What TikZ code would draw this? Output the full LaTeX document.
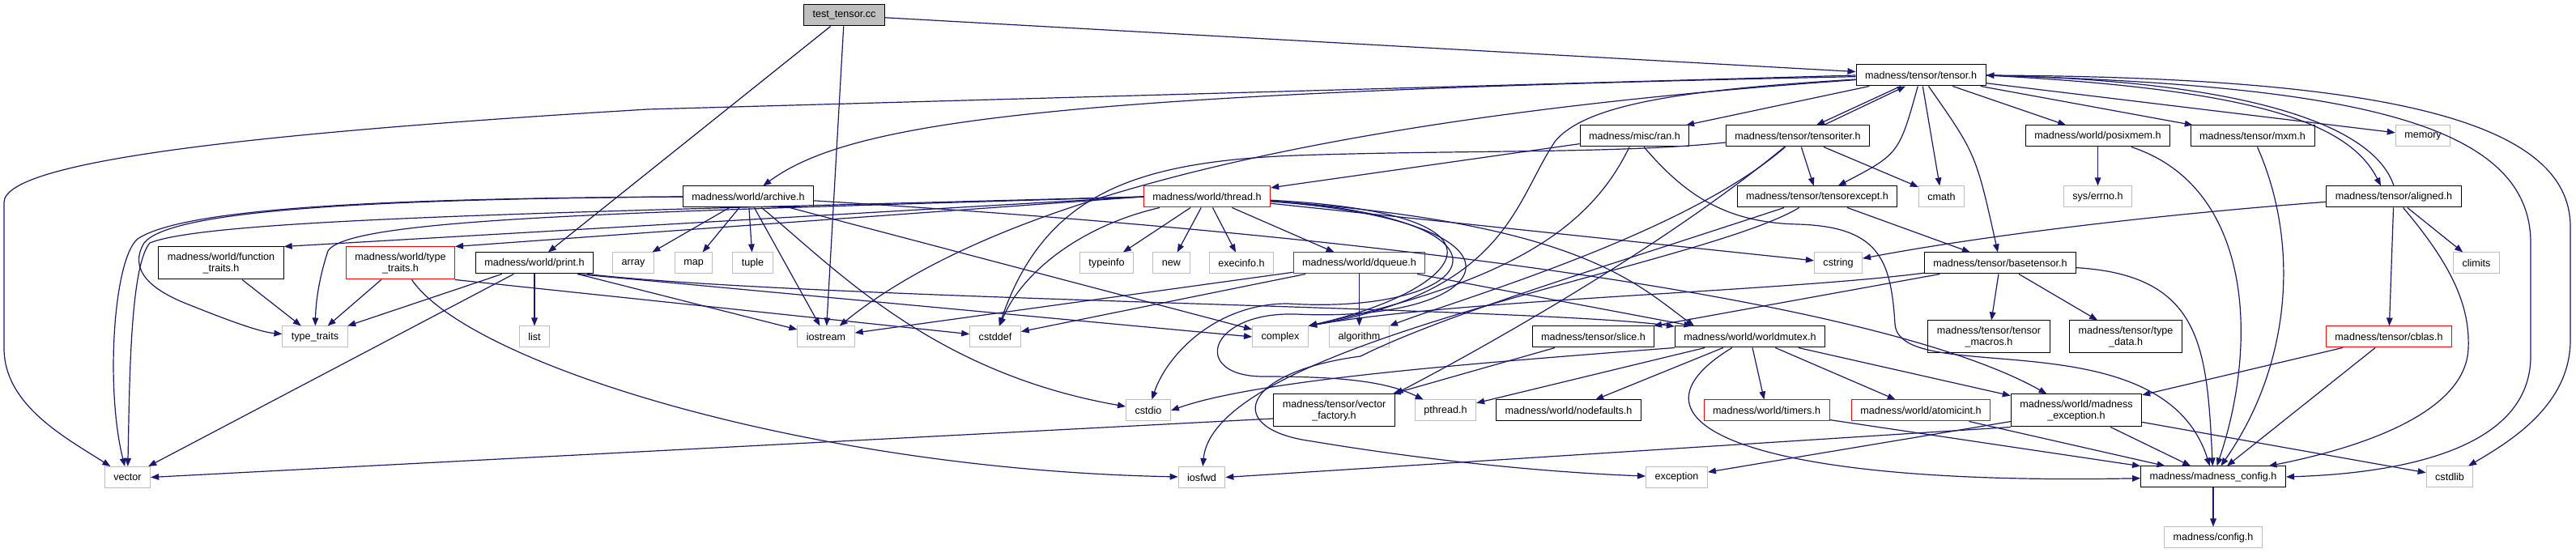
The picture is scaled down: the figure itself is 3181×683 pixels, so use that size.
\documentclass[tikz,border=0pt]{standalone}
\usepackage{fontspec}
\newfontfamily\nf{Liberation Sans}
\usetikzlibrary{arrows.meta}
\definecolor{mblue}{RGB}{25,25,112}
\definecolor{grey75}{RGB}{191,191,191}
\tikzset{
  base/.style={draw, line width=0.5pt, fill=white, minimum height=13pt, inner xsep=5.5pt, inner ysep=0pt,
    font=\nf\fontsize{6.3}{7}\selectfont, text=black},
  doc/.style={base, draw=black},
  sys/.style={base, draw=grey75},
  trunc/.style={base, draw=red},
  two/.style={minimum height=20pt, align=center},
  dep/.style={draw=mblue, line width=0.6pt, -{Triangle[length=5pt,width=3.8pt]}}
}
\begin{document}
\begin{tikzpicture}[x=0.5pt,y=-0.5pt]
\fill[white] (0,0) rectangle (3181,683);
\useasboundingbox (0,0) rectangle (3181,683);
% nodes
\node[doc, fill=grey75] (tt) at (1042.5,19) {test\_tensor.cc};
\node[doc] (tensor) at (2372,93) {madness/tensor/tensor.h};
\node[doc] (ran) at (2018.5,168) {madness/misc/ran.h};
\node[doc] (titer) at (2220,168) {madness/tensor/tensoriter.h};
\node[doc] (posix) at (2590.5,168) {madness/world/posixmem.h};
\node[doc] (mxm) at (2781.5,168) {madness/tensor/mxm.h};
\node[sys] (memory) at (2992,168) {memory};
\node[doc] (archive) at (924,243) {madness/world/archive.h};
\node[trunc] (thread) at (1490.5,243) {madness/world/thread.h};
\node[doc] (texcept) at (2244,243) {madness/tensor/tensorexcept.h};
\node[sys] (cmath) at (2397.5,243) {cmath};
\node[sys] (errno) at (2590.5,243) {sys/errno.h};
\node[doc] (aligned) at (2956,243) {madness/tensor/aligned.h};
\node[doc, two] (ftraits) at (273,325) {madness/world/function\\\_traits.h};
\node[trunc, two] (wtt) at (494.5,325) {madness/world/type\\\_traits.h};
\node[doc] (print) at (660,325) {madness/world/print.h};
\node[sys] (array) at (782,325) {array};
\node[sys] (map) at (856.5,325) {map};
\node[sys] (tuple) at (929.5,325) {tuple};
\node[sys] (typeinfo) at (1366.5,325) {typeinfo};
\node[sys] (nw) at (1446.5,325) {new};
\node[sys] (execinfo) at (1533,325) {execinfo.h};
\node[trunc] (dqueue) at (1678.5,325) {madness/world/dqueue.h};
\node[sys] (cstring) at (2270,325) {cstring};
\node[doc] (basetensor) at (2470,325) {madness/tensor/basetensor.h};
\node[sys] (climits) at (3058,325) {climits};
\node[sys] (ttraits) at (389,416) {type\_traits};
\node[sys] (list) at (660,416) {list};
\node[sys] (iostream) at (1020,416) {iostream};
\node[sys] (cstddef) at (1229,416) {cstddef};
\node[sys] (complex) at (1581,416) {complex};
\node[sys] (algorithm) at (1678.5,416) {algorithm};
\node[doc] (slice) at (1967.5,416) {madness/tensor/slice.h};
\node[doc] (wmutex) at (2161,416) {madness/world/worldmutex.h};
\node[doc, two] (tmacros) at (2456,416) {madness/tensor/tensor\\\_macros.h};
\node[doc, two] (tdata) at (2625,416) {madness/tensor/type\\\_data.h};
\node[trunc] (cblas) at (2950,416) {madness/tensor/cblas.h};
\node[sys] (cstdio) at (1418,507) {cstdio};
\node[doc, two] (vfactory) at (1647.5,507) {madness/tensor/vector\\\_factory.h};
\node[sys] (pthread) at (1785,507) {pthread.h};
\node[doc] (nodefaults) at (1937,507) {madness/world/nodefaults.h};
\node[trunc] (timers) at (2181.5,507) {madness/world/timers.h};
\node[trunc] (atomicint) at (2372,507) {madness/world/atomicint.h};
\node[doc, two] (mexcept) at (2564,507) {madness/world/madness\\\_exception.h};
\node[sys] (vector) at (157.5,589.5) {vector};
\node[sys] (iosfwd) at (1484,589.5) {iosfwd};
\node[sys] (exception) at (2070.5,589.5) {exception};
\node[doc] (mconfig) at (2733,589) {madness/madness\_config.h};
\node[sys] (cstdlib) at (3025,589) {cstdlib};
\node[sys] (config) at (2733,664) {madness/config.h};
% test_tensor.cc
\draw[dep] (tt) -- (tensor);
\draw[dep] (tt) -- (print);
\draw[dep] (tt) -- (iostream);
% tensor.h
\draw[dep] (tensor) -- (ran);
\draw[dep] ([xshift=-12.5pt]tensor.south) -- ([xshift=11.5pt]titer.north);
\draw[dep] ([xshift=16pt]titer.north) -- ([xshift=-9.5pt]tensor.south);
\draw[dep] (tensor) .. controls (2345,190) .. (texcept);
\draw[dep] (tensor) -- (cmath);
\draw[dep] (tensor) .. controls (2440,190) .. (basetensor);
\draw[dep] (tensor) -- (posix);
\draw[dep] (tensor) -- (mxm);
\draw[dep] (tensor) -- (memory);
\draw[dep] (tensor.east) .. controls (2780,110) and (2900,150) .. ([xshift=-8pt]aligned.north);
\draw[dep] (aligned.north) .. controls (2930,150) and (2760,100) .. (tensor.east);
\draw[dep] (tensor.east) .. controls (2900,105) and (3125,150) .. (3125,300) -- (3125,440) .. controls (3125,560) and (2950,585) .. (mconfig.east);
\draw[dep] (tensor.east) .. controls (2950,95) and (3174,150) .. (3174,280) -- (3174,420) .. controls (3174,500) and (3100,545) .. (cstdlib);
\draw[dep] (tensor.west) -- (800,135) .. controls (300,165) and (5,200) .. (5,250) -- (5,430) .. controls (5,500) and (80,540) .. (vector);
\draw[dep] (tensor) .. controls (1300,115) and (1050,150) .. (archive);
\draw[dep] (tensor) .. controls (1700,140) and (1250,230) .. (iostream);
\draw[dep] (tensor) .. controls (2100,110) and (1960,125) .. (1920,175) .. controls (1870,250) and (1860,360) .. (complex.north east);
% tensoriter.h
\draw[dep] (titer) -- (texcept);
\draw[dep] (titer) -- (cmath);
\draw[dep] ([yshift=-4pt]titer.west) .. controls (2000,190) and (1800,185) .. (1600,192) .. controls (1400,200) and (1290,240) .. (cstddef);
\draw[dep] (titer) .. controls (2060,300) and (1850,420) .. (vfactory.north east);
\draw[dep] (titer) .. controls (2080,290) and (1800,370) .. (algorithm.north east);
% ran.h
\draw[dep] (ran) -- (thread);
\draw[dep] (ran) .. controls (1960,290) and (1850,350) .. (complex.north east);
\draw[dep] (ran) .. controls (2080,240) and (2130,275) .. (2220,277) .. controls (2320,280) and (2335,320) .. (2340,400) .. controls (2345,480) and (2670,390) .. (mconfig);
% tensorexcept.h
\draw[dep] (texcept) -- (basetensor);
\draw[dep] (texcept) .. controls (2100,330) and (1500,420) .. (iosfwd);
\draw[dep] (texcept) .. controls (1980,330) and (1780,390) .. (1680,440) .. controls (1530,460) and (1510,530) .. (1620,545) .. controls (1800,575) and (1950,585) .. (exception);
% basetensor.h
\draw[dep] (basetensor) -- (tmacros);
\draw[dep] (basetensor) -- (tdata);
\draw[dep] (basetensor) .. controls (2720,340) and (2725,430) .. (mconfig);
\draw[dep] (basetensor) -- (slice);
\draw[dep] (basetensor) .. controls (2200,360) and (1800,370) .. (complex.north east);
% posixmem.h, mxm.h
\draw[dep] (posix) -- (errno);
\draw[dep] (posix) .. controls (2780,230) and (2790,420) .. (mconfig);
\draw[dep] (mxm) .. controls (2840,300) and (2830,450) .. (mconfig);
% aligned.h
\draw[dep] (aligned) .. controls (2600,270) and (2400,300) .. (cstring);
\draw[dep] (aligned) -- (climits);
\draw[dep] (aligned) -- (cblas);
\draw[dep] (aligned) .. controls (3030,330) and (3050,380) .. (3048,430) .. controls (3045,520) and (2880,560) .. (mconfig);
% cblas.h
\draw[dep] (cblas) -- (mexcept);
\draw[dep] (cblas) -- (mconfig);
% archive.h
\draw[dep] (archive) -- (array);
\draw[dep] (archive) -- (map);
\draw[dep] (archive) -- (tuple);
\draw[dep] (archive) -- (iostream);
\draw[dep] (archive) .. controls (1030,330) and (1150,460) .. (cstdio);
\draw[dep] (archive) -- (complex);
\draw[dep] (archive) .. controls (1700,290) and (2320,370) .. (mexcept);
\draw[dep] (archive.west) .. controls (500,245) and (230,255) .. (170,295) .. controls (140,320) and (130,480) .. (vector);
\draw[dep] (archive.west) .. controls (450,246) and (210,260) .. (178,300) .. controls (160,330) and (180,355) .. (230,375) .. controls (280,395) and (320,410) .. (ttraits);
% thread.h
\draw[dep] (thread) -- (typeinfo);
\draw[dep] (thread) -- (nw);
\draw[dep] (thread) -- (execinfo);
\draw[dep] (thread) -- (dqueue);
\draw[dep] (thread) .. controls (1330,280) and (1260,340) .. (cstddef);
\draw[dep] (thread) -- (cstring);
\draw[dep] (thread) .. controls (1950,275) and (2020,350) .. ([xshift=12pt]wmutex.north west);
\draw[dep] (thread) .. controls (1900,265) and (1800,360) .. (complex.north east);
\draw[dep] (thread) .. controls (1900,270) and (1830,390) .. (1590,375) .. controls (1500,375) and (1440,440) .. (cstdio);
\draw[dep] (thread) .. controls (1920,275) and (1850,400) .. (1600,388) .. controls (1490,385) and (1470,465) .. (1560,465) .. controls (1650,465) and (1710,470) .. (pthread);
\draw[dep] (thread.west) -- (ftraits.north east);
\draw[dep] (thread.west) -- (wtt.north east);
\draw[dep] (thread.west) .. controls (800,262) and (430,268) .. (405,310) .. controls (395,340) and (390,370) .. (ttraits);
\draw[dep] (thread.west) .. controls (700,262) and (260,270) .. (185,300) .. controls (160,330) and (160,480) .. (vector);
% dqueue.h
\draw[dep] (dqueue) -- (algorithm);
\draw[dep] (dqueue) -- (wmutex);
\draw[dep] (dqueue) -- (iostream);
\draw[dep] (dqueue) -- (cstddef);
% print.h
\draw[dep] (print) -- (ttraits);
\draw[dep] (print) -- (vector);
\draw[dep] (print) -- (list);
\draw[dep] (print) -- (iostream);
\draw[dep] ([xshift=-10pt]print.south east) -- (complex.west);
\draw[dep] ([xshift=-4pt]print.south east) .. controls (1000,370) and (1900,380) .. (wmutex);
% type_traits.h, function_traits.h
\draw[dep] (wtt) -- (ttraits);
\draw[dep] (wtt.south east) -- (cstddef);
\draw[dep] (wtt) .. controls (580,450) and (1000,580) .. (iosfwd);
\draw[dep] (ftraits) -- (ttraits);
% vector_factory.h, slice.h
\draw[dep] ([yshift=-5pt]vfactory.west) -- (vector.east);
\draw[dep] (slice) -- (vfactory);
% worldmutex.h
\draw[dep] (wmutex) -- (nodefaults);
\draw[dep] (wmutex) -- (timers);
\draw[dep] (wmutex) -- (atomicint);
\draw[dep] (wmutex) -- (mexcept);
\draw[dep] (wmutex) -- (pthread);
\draw[dep] (wmutex.south west) .. controls (1800,450) and (1550,470) .. (cstdio.east);
\draw[dep] (wmutex) .. controls (1990,520) and (2150,600) .. (mconfig);
% timers.h, atomicint.h
\draw[dep] (timers) -- (mconfig);
\draw[dep] (atomicint) -- (mconfig);
% madness_exception.h
\draw[dep] (mexcept) -- (mconfig);
\draw[dep] (mexcept) -- (cstdlib);
\draw[dep] (mexcept.south west) -- (iosfwd.east);
\draw[dep] (mexcept) -- (exception);
% madness_config.h
\draw[dep] (mconfig) -- (config);
\end{tikzpicture}
\end{document}
